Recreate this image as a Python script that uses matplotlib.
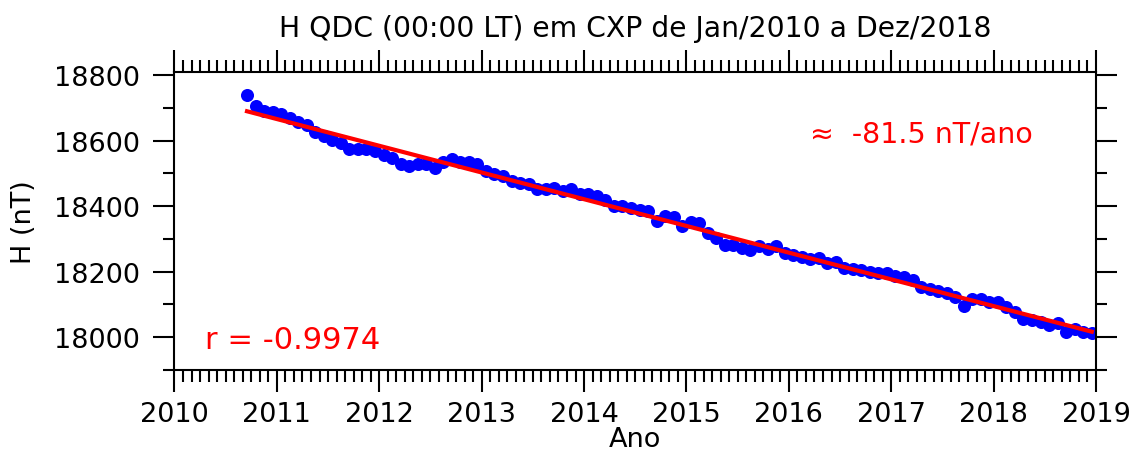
import numpy as np
import matplotlib
matplotlib.use("Agg")
import matplotlib.pyplot as plt
from matplotlib.ticker import MultipleLocator

# Monthly H QDC values (nT), Sep/2010 .. Dec/2018 (mid-month)
start_year = 2010
start_month = 9
h_values = [
    18740, 18704, 18691, 18686, 18680, 18670, 18657, 18647, 18626, 18614,
    18601, 18591, 18575, 18573, 18575, 18568, 18556, 18548, 18529, 18522,
    18529, 18527, 18517, 18535, 18545, 18535, 18534, 18527, 18507, 18499,
    18492, 18476, 18471, 18466, 18451, 18451, 18454, 18446, 18451, 18437,
    18437, 18430, 18420, 18399, 18399, 18394, 18389, 18384, 18353, 18369,
    18367, 18338, 18350, 18349, 18318, 18303, 18282, 18282, 18272, 18267,
    18277, 18269, 18277, 18257, 18250, 18245, 18239, 18241, 18226, 18229,
    18211, 18208, 18205, 18200, 18195, 18195, 18188, 18185, 18175, 18154,
    18147, 18141, 18136, 18124, 18095, 18116, 18116, 18108, 18108, 18093,
    18078, 18057, 18054, 18047, 18037, 18042, 18016, 18026, 18016, 18013,
]
trend_slope = -81.5          # nT/ano, as stated on the chart
r_value = -0.9974
slope_text = "≈  %.1f nT/ano" % trend_slope
r_text = "r = %.4f" % r_value
title = "H QDC (00:00 LT) em CXP de Jan/2010 a Dez/2018"
year_ticks = list(range(2010, 2020))

h = np.array(h_values, dtype=float)
months = np.arange(len(h))
t = start_year + (start_month - 1 + months + 0.5) / 12.0

# trend line with the stated slope, passing through the data centroid
intercept = h.mean() - trend_slope * t.mean()
fit = intercept + trend_slope * t

fig = plt.figure(figsize=(11.36, 4.52), dpi=100)
ax = fig.add_axes([0.1536, 0.1792, 0.9648 - 0.1536, 0.8378 - 0.1792])

ax.plot(t, h, 'o', color='#0000ff', markersize=9.4, markeredgewidth=0, zorder=2)
ax.plot(t, fit, '-', color='#ff0000', linewidth=3, zorder=3)

ax.set_xlim(2010, 2019)
ax.set_ylim(17900, 18808)
ax.set_xticks(year_ticks)
ax.xaxis.set_minor_locator(MultipleLocator(1 / 12))
ax.yaxis.set_major_locator(MultipleLocator(200))
ax.yaxis.set_minor_locator(MultipleLocator(100))

ax.tick_params(which='both', direction='out', width=1.5, top=True, right=True,
               labelsize=19.5, colors='black')
ax.tick_params(axis='x', which='major', length=16, pad=6)
ax.tick_params(axis='x', which='minor', length=8.5)
ax.tick_params(axis='y', which='major', length=15, pad=10)
ax.tick_params(axis='y', which='minor', length=8)
for s in ax.spines.values():
    s.set_linewidth(1.5)

ax.set_xlabel("Ano", fontsize=19.5, labelpad=-0.5)
ax.set_ylabel("H (nT)", fontsize=19.5, labelpad=12)
ax.set_title(title, fontsize=20.3, pad=26)

ax.text(0.033, 0.104, r_text, transform=ax.transAxes, color='#ff0000', fontsize=22,
        ha='left', va='center')
ax.text(0.69, 0.795, slope_text, transform=ax.transAxes, color='#ff0000', fontsize=20.5,
        ha='left', va='center')

fig.savefig("out.png", dpi=100)
